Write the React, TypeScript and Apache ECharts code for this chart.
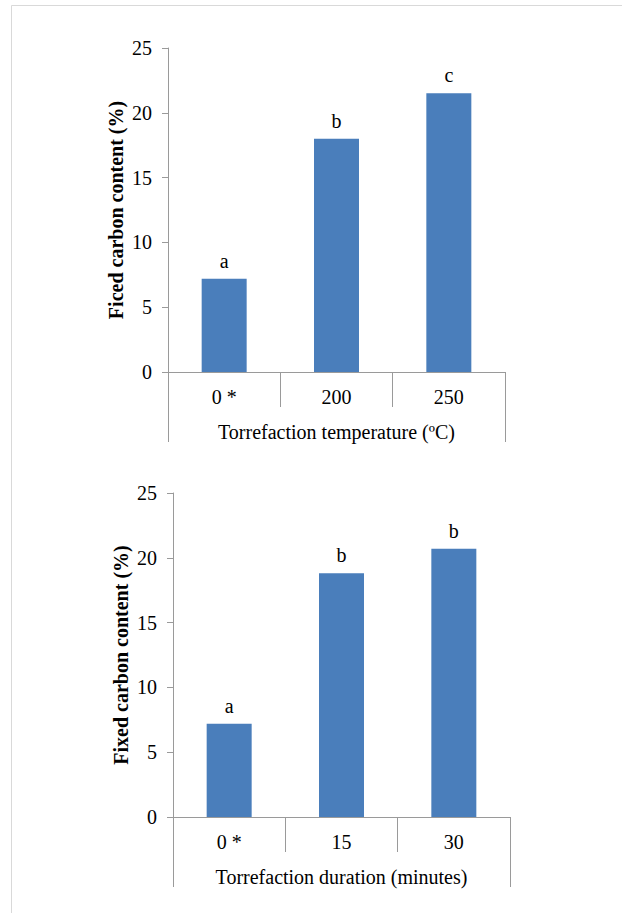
import React, { useEffect, useRef } from "react";
import * as echarts from "echarts";

const temperatureCategories = ["0 *", "200", "250"];
const temperatureValues = [7.2, 18.0, 21.5];
const temperatureLetters = ["a", "b", "c"];
const temperatureGroup = ["Torrefaction temperature (ºC)"];
const temperatureYName = "Ficed carbon content (%)";

const durationCategories = ["0 *", "15", "30"];
const durationValues = [7.2, 18.8, 20.7];
const durationLetters = ["a", "b", "b"];
const durationGroup = ["Torrefaction duration (minutes)"];
const durationYName = "Fixed carbon content (%)";

const yMin = 0;
const yMax = 25;
const yInterval = 5;

const FONT = "Liberation Serif";
const AXIS_COLOR = "#9a9a9a";
const BAR_COLOR = "#4a7ebb";

export default function App() {
  const ref = useRef<HTMLDivElement>(null);

  useEffect(() => {
    if (!ref.current) return;
    const chart = echarts.init(ref.current, undefined, { renderer: "svg" });

    const grids = [
      { left: 168, top: 48, width: 337, height: 324 },
      { left: 173, top: 493, width: 337, height: 324 },
    ];

    const catAxis = (gridIndex: number, data: string[]) => ({
      type: "category",
      gridIndex,
      position: "bottom",
      data,
      axisLine: { show: true, lineStyle: { color: AXIS_COLOR, width: 1 } },
      axisTick: { show: true, length: 35, lineStyle: { color: AXIS_COLOR } },
      axisLabel: { color: "#000", fontFamily: FONT, fontSize: 20, margin: 15 },
      splitLine: { show: false },
    });

    const groupAxis = (gridIndex: number, data: string[]) => ({
      type: "category",
      gridIndex,
      position: "bottom",
      data,
      axisLine: { show: false },
      axisTick: { show: true, length: 70, lineStyle: { color: AXIS_COLOR } },
      axisLabel: { color: "#000", fontFamily: FONT, fontSize: 20, margin: 50 },
      splitLine: { show: false },
    });

    const valAxis = (gridIndex: number, name: string) => ({
      type: "value",
      gridIndex,
      min: yMin,
      max: yMax,
      interval: yInterval,
      name,
      nameLocation: "middle",
      nameGap: 42,
      nameRotate: 90,
      nameMoveOverlap: false,
      nameTextStyle: { color: "#000", fontFamily: FONT, fontSize: 20, fontWeight: "bold" },
      axisLine: { show: true, lineStyle: { color: AXIS_COLOR, width: 1 } },
      axisTick: { show: true, inside: false, length: 6, lineStyle: { color: AXIS_COLOR } },
      axisLabel: { color: "#000", fontFamily: FONT, fontSize: 20, margin: 16 },
      splitLine: { show: false },
    });

    const barSeries = (idx: number, values: number[], letters: string[]) => ({
      type: "bar",
      xAxisIndex: idx * 2,
      yAxisIndex: idx,
      data: values,
      barWidth: 45,
      itemStyle: { color: BAR_COLOR },
      label: {
        show: true,
        position: "top",
        distance: 8,
        color: "#000",
        fontFamily: FONT,
        fontSize: 20,
        formatter: (p: any) => letters[p.dataIndex],
      },
    });

    chart.setOption({
      animation: false,
      backgroundColor: "#fff",
      textStyle: { fontFamily: FONT },
      grid: grids,
      xAxis: [
        catAxis(0, temperatureCategories),
        groupAxis(0, temperatureGroup),
        catAxis(1, durationCategories),
        groupAxis(1, durationGroup),
      ],
      yAxis: [valAxis(0, temperatureYName), valAxis(1, durationYName)],
      series: [
        barSeries(0, temperatureValues, temperatureLetters),
        barSeries(1, durationValues, durationLetters),
      ],
      graphic: [
        {
          type: "rect",
          shape: { x: 11.5, y: 5.5, width: 800, height: 1000 },
          style: { fill: "none", stroke: "#d9d9d9", lineWidth: 1 },
          silent: true,
        },
      ],
    });

    return () => chart.dispose();
  }, []);

  return (
    <div
      ref={ref}
      style={{ position: "absolute", left: 0, top: 0, width: 622, height: 913 }}
    />
  );
}
